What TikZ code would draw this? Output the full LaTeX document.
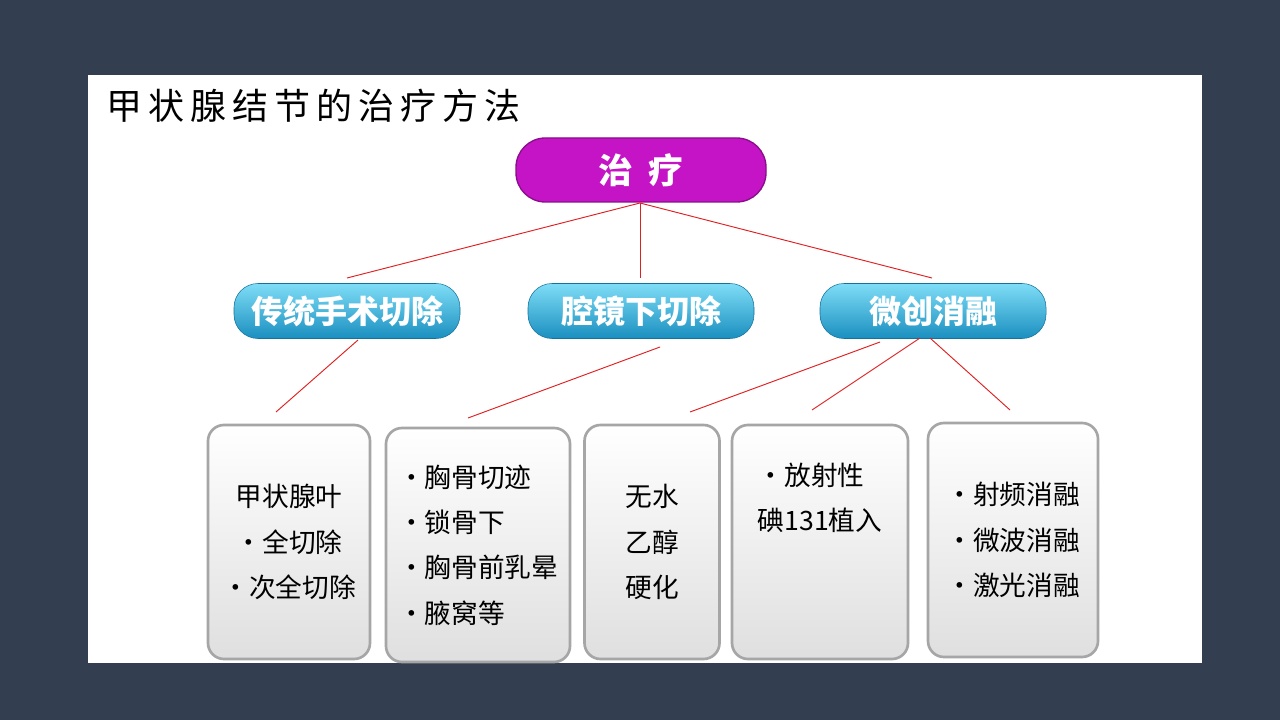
\documentclass[tikz,border=0pt]{standalone}
\usepackage{fontspec}
\newfontfamily\cjk{Noto Sans CJK SC}
\usetikzlibrary{positioning}

\definecolor{slate}{HTML}{333F50}
\definecolor{topfill}{HTML}{C513C6}
\definecolor{cyantop}{HTML}{7FDDF6}
\definecolor{cyanbot}{HTML}{1A8FC0}
\definecolor{linered}{HTML}{E02020}

\tikzset{
  toppill/.style={rounded corners=22pt, fill=topfill, draw=topfill!70!black, line width=1pt,
    minimum width=250*0.75pt, minimum height=64*0.75pt, text=white, font=\cjk\bfseries\fontsize{26}{28}\selectfont},
  midpill/.style={rounded corners=18pt, top color=cyantop, bottom color=cyanbot, draw=cyanbot!80!black,
    minimum width=226*0.75pt, minimum height=55*0.75pt, inner sep=1pt, text=white, font=\cjk\bfseries\fontsize{24}{26}\selectfont},
  leafbox/.style={rounded corners=12pt, top color=white, bottom color=gray!25, draw=gray!70, line width=2pt,
    minimum height=234*0.75pt, align=center, font=\cjk\fontsize{20}{34}\selectfont},
  link/.style={draw=linered, line width=0.7pt}
}

\begin{document}
\begin{tikzpicture}[x=0.75pt,y=-0.75pt]
\useasboundingbox (0,0) rectangle (1280,720);
\fill[slate] (0,0) rectangle (1280,720);
\fill[white] (88,75) rectangle (1202,663);
\node[anchor=west, font=\cjk\fontsize{27}{30}\selectfont] (title) at (102,106) {甲\,状\,腺\,结\,节\,的\,治\,疗\,方\,法};

% top and middle row
\node[toppill] (treat) at (641,170) {治\ \ 疗};
\node[midpill] (open) at (347,311) {传统手术切除};
\node[midpill] (endo) at (641,311) {腔镜下切除};
\node[midpill] (mini) at (933,311) {微创消融};

% leaves
\node[leafbox, minimum width=162*0.75pt] (lobe) at (289,542) {甲状腺叶\\•全切除\\•次全切除};
\node[leafbox, minimum width=184*0.75pt, align=left, inner sep=1pt] (route) at (478,545) {•胸骨切迹\\•锁骨下\\•胸骨前乳晕\\•腋窝等};
\node[leafbox, minimum width=135*0.75pt] (ethanol) at (652,542) {无水\\乙醇\\硬化};
\node[leafbox, minimum width=176*0.75pt, align=left] (iodine) at (820,542) {•放射性\\碘131植入\\ \\ };
\node[leafbox, minimum width=170*0.75pt, align=left] (ablate) at (1013,540) {•射频消融\\•微波消融\\•激光消融};

% connectors
\coordinate (t0) at (640,203);
\coordinate (a1) at (347,278); \coordinate (a2) at (640,278); \coordinate (a3) at (932,278);
\draw[link] (t0) -- (a1); \draw[link] (t0) -- (a2); \draw[link] (t0) -- (a3);
\coordinate (o1) at (358,340); \coordinate (l1) at (276,412);
\coordinate (e1) at (660,347); \coordinate (l2) at (468,418);
\coordinate (m1) at (880,342); \coordinate (l3) at (690,412);
\coordinate (m2) at (920,338); \coordinate (l4) at (812,410);
\coordinate (m3) at (930,338); \coordinate (l5) at (1010,410);
\draw[link] (o1) -- (l1);
\draw[link] (e1) -- (l2);
\draw[link] (m1) -- (l3);
\draw[link] (m2) -- (l4);
\draw[link] (m3) -- (l5);
\end{tikzpicture}
\end{document}
